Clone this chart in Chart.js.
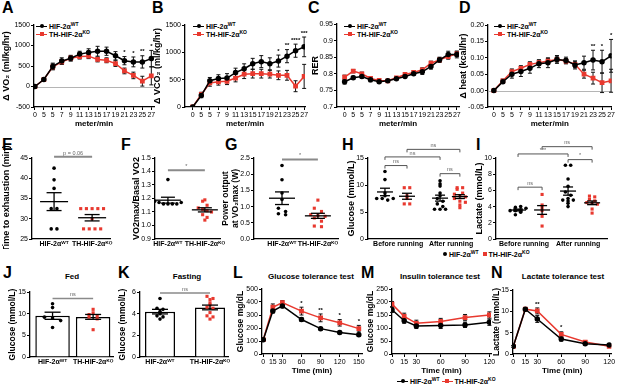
<!DOCTYPE html>
<html>
<head>
<meta charset="utf-8">
<script src="https://cdn.jsdelivr.net/npm/chart.js@4.4.1/dist/chart.umd.min.js"></script>
<style>
  body { margin:0; width:617px; height:388px; position:relative; overflow:hidden; background:#fff;
         font-family:'Liberation Sans', Arial, sans-serif; color:#000; }
  canvas { position:absolute; }
  .let { position:absolute; font-weight:bold; font-size:16px; line-height:16px; }
  .ttl { position:absolute; font-weight:bold; font-size:8px; line-height:9px; white-space:nowrap; transform:translateX(-50%); }
  .lg { position:absolute; font-weight:bold; font-size:7px; line-height:8px; white-space:nowrap; }
  .lg sup { font-size:5px; vertical-align:3px; line-height:0; }
  .ln { display:inline-block; position:relative; width:11px; height:1.5px; background:#000; vertical-align:2px; margin-right:2px; }
  .ln::after { content:''; position:absolute; left:3.5px; top:-1.5px; width:4px; height:4px; border-radius:50%; background:#000; }
  .ln.r, .ln.r::after { background:#e8392f; }
  .ln.r::after { border-radius:0; }
  .dt { display:inline-block; width:4px; height:4px; border-radius:50%; background:#000; vertical-align:1px; margin-right:2px; }
  .sq { display:inline-block; width:4px; height:4px; background:#e8392f; vertical-align:1px; margin:0 2px 0 4px; }
</style>
</head>
<body>
<div class="let" style="left:2px;top:0px">A</div>
<div class="let" style="left:152px;top:0px">B</div>
<div class="let" style="left:308px;top:0px">C</div>
<div class="let" style="left:459px;top:0px">D</div>
<div class="let" style="left:2px;top:137px">E</div>
<div class="let" style="left:121px;top:137px">F</div>
<div class="let" style="left:225px;top:137px">G</div>
<div class="let" style="left:342px;top:137px">H</div>
<div class="let" style="left:476px;top:137px">I</div>
<div class="let" style="left:3px;top:265px">J</div>
<div class="let" style="left:118px;top:265px">K</div>
<div class="let" style="left:233px;top:265px">L</div>
<div class="let" style="left:361px;top:265px">M</div>
<div class="let" style="left:491px;top:265px">N</div>

<div class="ttl" style="left:72px;top:272px">Fed</div>
<div class="ttl" style="left:187px;top:272px">Fasting</div>
<div class="ttl" style="left:311px;top:272px">Glucose tolerance test</div>
<div class="ttl" style="left:440px;top:272px">Insulin tolerance test</div>
<div class="ttl" style="left:563px;top:272px">Lactate tolerance test</div>

<div class="lg" style="left:36px;top:23px"><span class="ln"></span>HIF-2α<sup>WT</sup><br><span class="ln r"></span>TH-HIF-2α<sup>KO</sup></div>
<div class="lg" style="left:193px;top:23px"><span class="ln"></span>HIF-2α<sup>WT</sup><br><span class="ln r"></span>TH-HIF-2α<sup>KO</sup></div>
<div class="lg" style="left:344px;top:23px"><span class="ln"></span>HIF-2α<sup>WT</sup><br><span class="ln r"></span>TH-HIF-2α<sup>KO</sup></div>
<div class="lg" style="left:494px;top:23px"><span class="ln"></span>HIF-2α<sup>WT</sup><br><span class="ln r"></span>TH-HIF-2α<sup>KO</sup></div>
<div class="lg" style="left:443px;top:251px"><span class="dt"></span>HIF-2α<sup>WT</sup><span class="sq"></span>TH-HIF-2α<sup>KO</sup></div>
<div class="lg" style="left:397px;top:378px"><span class="ln"></span>HIF-2α<sup>WT</sup> <span class="ln r"></span>TH-HIF-2α<sup>KO</sup></div>

<script>
// ---- A-D: treadmill run, values per speed step ----
const speeds = ['0','5','5','7','9','11','13','15','17','19','21','23','25','27'];
const steps = [0,1,2,3,4,5,6,7,8,9,10,11,12,13];

const vo2WT    = [0,170,490,620,690,790,830,860,860,750,630,600,600,680];
const vo2WTsem = [0,30,80,80,70,70,90,120,100,100,100,120,150,200];
const vo2KO    = [0,170,480,600,690,730,740,660,640,560,380,270,130,260];
const vo2KOsem = [0,30,70,60,60,60,60,60,60,70,70,80,120,220];
const vo2Sig   = ['','','','','','','','','','','*','*','**','*'];

const vco2WT    = [0,210,480,520,530,630,700,790,830,790,840,930,1030,1100];
const vco2WTsem = [0,40,60,70,80,80,90,100,110,110,110,120,120,180];
const vco2KO    = [0,230,440,460,470,530,600,610,610,600,580,580,380,560];
const vco2KOsem = [0,40,60,60,60,70,80,80,80,70,80,90,100,220];
const vco2Sig   = ['','','','','','','','','','','*','**','****','***'];

const rerWT    = [0.776,0.788,0.792,0.782,0.776,0.779,0.785,0.792,0.800,0.806,0.822,0.842,0.858,0.858];
const rerWTsem = [0.007,0.005,0.005,0.006,0.004,0.003,0.003,0.003,0.004,0.008,0.008,0.008,0.010,0.010];
const rerKO    = [0.790,0.808,0.800,0.786,0.780,0.779,0.788,0.798,0.804,0.812,0.832,0.842,0.852,0.860];
const rerKOsem = [0.006,0.005,0.005,0.005,0.004,0.003,0.003,0.004,0.004,0.006,0.006,0.006,0.008,0.008];

const heatWT    = [0,0.027,0.050,0.058,0.068,0.082,0.085,0.095,0.092,0.078,0.085,0.093,0.088,0.106];
const heatWTsem = [0,0.005,0.012,0.015,0.015,0.012,0.015,0.012,0.010,0.012,0.020,0.030,0.035,0.050];
const heatKO    = [0,0.030,0.058,0.068,0.080,0.085,0.090,0.095,0.090,0.080,0.050,0.038,0.024,0.030];
const heatKOsem = [0,0.005,0.008,0.008,0.008,0.008,0.008,0.008,0.008,0.010,0.012,0.018,0.030,0.035];
const heatSig   = ['','','','','','','','','','','','**','*','*'];

// ---- E-I: individual mice ----
const groupLabels = ['HIF-2αᵂᵀ', 'TH-HIF-2αᴷᴼ'];
const runLabels = ['Before running', 'After running'];
const exhWT = [42.5,39.6,37.5,32.5,32.5,27.5,27.5];
const exhKO = [32.5,32.5,32.5,32.5,32.5,30,27.5,27.5,27.5,27.5];
const ratioWT = [1.34,1.18,1.17,1.16,1.16,1.16,1.16,1.17];
const ratioKO = [1.19,1.18,1.15,1.13,1.12,1.11,1.10,1.08,1.06,1.04];
const powerWT = [2.27,1.83,1.42,1.22,0.95,0.85,0.78,0.75];
const powerKO = [1.20,0.95,0.85,0.75,0.72,0.70,0.65,0.55,0.40,0.38];
const gluBeforeWT = [12.5,11,8.5,7.5,7.5,7.2,7.5,8];
const gluBeforeKO = [9.5,9.5,8,7.5,6.5,6.5];
const gluAfterWT  = [10.8,10.2,9.8,8.5,8,7.5,7,6.5,6,5.5,5.5,5.5];
const gluAfterKO  = [9.5,9.5,9.2,8.5,8.3,8,7.8,7.5,7,6.8,6.3,5.8];
const lacBeforeWT = [3.0,3.3,3.5,3.5,3.6,3.8,3.9,4.0];
const lacBeforeKO = [5.5,4.2,3.9,3.5,2.8,1.6];
const lacAfterWT  = [9.1,9.1,7.4,6.5,5.8,5.4,5.0,4.8,4.7,4.4,4.8,4.0];
const lacAfterKO  = [5.3,5.2,4.9,4.7,4.5,4.4,4.3,3.7,3.2];

// ---- J-N ----
const fedWT  = [12.3,11.4,9.2,9.0,8.4,6.8];
const fedKO  = [11,10.2,9.8,9.5,9.2,8.8,6.3];
const fastWT = [5.4,4.5,4.4,4.2,4.0,3.8,3.7,3.5];
const fastKO = [5.6,5.4,5.3,5.0,4.8,4.6,4.5,4.1,3.8,3.7,3.5];

const gttTime  = [0,15,30,60,90,120,150];
const gttWT    = [110,330,370,265,195,165,148];
const gttWTsem = [5,15,15,15,10,10,12];
const gttKO    = [110,360,395,330,278,240,195];
const gttKOsem = [5,25,15,30,30,25,25];
const gttSig   = ['','','','*','**','*','*'];

const ittTime  = [0,15,30,60,90,120];
const ittWT    = [170,128,108,110,112,122];
const ittWTsem = [10,10,10,12,10,12];
const ittKO    = [192,145,118,125,140,150];
const ittKOsem = [10,12,12,12,12,12];

const lttTime  = [0,15,30,60,90,120];
const lttWT    = [1.8,10.5,8.2,3.5,2.4,2.1];
const lttWTsem = [0.2,0.4,0.8,0.5,0.3,0.3];
const lttKO    = [1.8,10.5,10.1,4.6,2.8,1.8];
const lttKOsem = [0.2,0.4,0.7,0.6,0.3,0.2];
const lttSig   = ['','','**','*','',''];

const RED = '#e8392f';
const F = "'Liberation Sans', Arial, sans-serif";
Chart.defaults.font.family = F;
Chart.defaults.color = '#000';

function seg(ctx, x1, y1, x2, y2) { ctx.beginPath(); ctx.moveTo(x1, y1); ctx.lineTo(x2, y2); ctx.stroke(); }
const mean = a => a.reduce((s, v) => s + v, 0) / a.length;
const sem = a => { const m = mean(a); return Math.sqrt(a.reduce((s, v) => s + (v - m) ** 2, 0) / (a.length - 1) / a.length); };

// error bars, mean/SEM, stars and brackets
const extras = {
  id: 'extras',
  beforeDatasetsDraw(chart, args, o) {
    const ctx = chart.ctx, x = chart.scales.x, y = chart.scales.y, ca = chart.chartArea;
    ctx.save();
    if (o.zero) {
      ctx.strokeStyle = '#b5b5b5'; ctx.lineWidth = 1;
      const p = Math.round(y.getPixelForValue(0)) + 0.5;
      seg(ctx, ca.left, p, ca.right, p);
    }
    chart.data.datasets.forEach(ds => {
      if (!ds.err) return;
      ctx.strokeStyle = '#111'; ctx.lineWidth = 1;
      ds.data.forEach((p, i) => {
        const e = ds.err[i]; if (!e) return;
        const px = x.getPixelForValue(p.x), t = y.getPixelForValue(p.y + e), b = y.getPixelForValue(p.y - e);
        seg(ctx, px, t, px, b); seg(ctx, px - 2, t, px + 2, t); seg(ctx, px - 2, b, px + 2, b);
      });
    });
    ctx.restore();
  },
  afterDatasetsDraw(chart, args, o) {
    const ctx = chart.ctx, x = chart.scales.x, y = chart.scales.y;
    ctx.save();
    chart.data.datasets.forEach(ds => {
      const s = ds.summary; if (!s) return;
      const m = mean(ds.vals), e = sem(ds.vals);
      const px = x.getPixelForValue(s.pos), pm = y.getPixelForValue(m);
      const t = y.getPixelForValue(m + e), b = y.getPixelForValue(m - e);
      ctx.strokeStyle = '#000'; ctx.lineWidth = 1.3;
      if (s.w) seg(ctx, px - s.w / 2, pm, px + s.w / 2, pm);
      seg(ctx, px, t, px, b);
      seg(ctx, px - s.cap / 2, t, px + s.cap / 2, t);
      seg(ctx, px - s.cap / 2, b, px + s.cap / 2, b);
    });
    if (o.sig) {
      ctx.font = 'bold 6px ' + F; ctx.fillStyle = '#000'; ctx.textAlign = 'center'; ctx.textBaseline = 'bottom';
      o.sig.forEach((lab, i) => {
        if (!lab) return;
        let top = Infinity, px = 0;
        chart.data.datasets.forEach(ds => {
          const p = ds.data[i]; px = x.getPixelForValue(p.x);
          top = Math.min(top, y.getPixelForValue(p.y + (ds.err ? ds.err[i] : 0)));
        });
        ctx.fillText(lab, px, top - 1);
      });
    }
    if (o.brackets) {
      const st = o.bstyle || {};
      ctx.strokeStyle = st.color || '#8a8a8a'; ctx.lineWidth = st.width || 2;
      ctx.font = '5.5px ' + F; ctx.fillStyle = '#666'; ctx.textAlign = 'center'; ctx.textBaseline = 'bottom';
      o.brackets.forEach(([a, b, v, lab]) => {
        const x1 = x.getPixelForValue(a), x2 = x.getPixelForValue(b), py = y.getPixelForValue(v);
        seg(ctx, x1, py, x2, py);
        if (st.drop) { seg(ctx, x1, py, x1, py + st.drop); seg(ctx, x2, py, x2, py + st.drop); }
        ctx.fillText(lab, (x1 + x2) / 2, py - 1);
      });
    }
    ctx.restore();
  }
};
Chart.register(extras);

function yAx(min, max, step, title, w, dec, tsz) {
  return {
    type: 'linear', min, max,
    afterFit: s => { s.width = w; },
    border: { color: '#000', width: 1.3 },
    grid: { drawOnChartArea: false, drawTicks: true, tickLength: 3, color: '#000', lineWidth: 1 },
    ticks: { stepSize: step, padding: 1, font: { size: 7 }, color: '#000',
             callback: v => dec == null ? String(+v.toFixed(6)) : v.toFixed(dec) },
    title: { display: true, text: title, font: { size: tsz || 9, weight: 'bold', lineHeight: 1.15 }, color: '#000', padding: 0 }
  };
}
function xAx(min, max, vals, labels, h, title, marks) {
  return {
    type: 'linear', min, max, offset: false,
    afterFit: s => { s.height = h; },
    afterBuildTicks: s => { s.ticks = vals.map(v => ({ value: v })); },
    border: { color: '#000', width: 1.3 },
    grid: { offset: false, drawOnChartArea: false, drawTicks: !!marks, tickLength: 3, color: '#000' },
    ticks: { autoSkip: false, maxRotation: 0, padding: 1, font: { size: 7, weight: marks ? 'normal' : 'bold' },
             color: '#000', callback: (v, i) => labels[i] },
    title: { display: !!title, text: title || '', font: { size: 8, weight: 'bold' }, color: '#000', padding: 0 }
  };
}

function panel(b, cfg) {
  const left = b.x0 - b.yw, top = b.y0 - b.pt;
  const w = b.x1 - left + b.pr, h = b.y1 + b.xh - top;
  const c = document.createElement('canvas');
  c.width = w; c.height = h;
  c.style.left = left + 'px'; c.style.top = top + 'px';
  c.style.width = w + 'px'; c.style.height = h + 'px';
  document.body.appendChild(c);
  cfg.options.responsive = false;
  cfg.options.animation = false;
  cfg.options.layout = { padding: { left: 0, top: b.pt, right: b.pr, bottom: 0 } };
  cfg.options.plugins = Object.assign({ legend: { display: false }, tooltip: { enabled: false } }, cfg.options.plugins);
  return new Chart(c, cfg);
}

function lineSets(xs, wt, wtE, ko, koE) {
  return [
    { data: ko.map((v, i) => ({ x: xs[i], y: v })), err: koE, borderColor: RED, backgroundColor: RED,
      pointBackgroundColor: RED, pointBorderColor: RED, pointStyle: 'rect', pointRadius: 2.3, borderWidth: 1.5, order: 2 },
    { data: wt.map((v, i) => ({ x: xs[i], y: v })), err: wtE, borderColor: '#000', backgroundColor: '#000',
      pointBackgroundColor: '#000', pointBorderColor: '#000', pointStyle: 'circle', pointRadius: 2, borderWidth: 1.5, order: 1 }
  ];
}
function lineChart(b, xs, wt, wtE, ko, koE, x, y, ext) {
  return panel(b, { type: 'line', data: { datasets: lineSets(xs, wt, wtE, ko, koE) },
    options: { scales: { x, y }, plugins: { extras: ext } } });
}

// points of almost the same value are spread side by side
function swarm(vals, pos, bin, step) {
  const rows = {}, pts = [];
  vals.forEach(v => { const k = Math.round(v / bin); (rows[k] = rows[k] || []).push(v); });
  Object.values(rows).forEach(r => r.forEach((v, j) => pts.push({ x: pos + (j - (r.length - 1) / 2) * step, y: v })));
  return pts;
}
function dots(vals, pos, red, bin, step, w, cap) {
  const col = red ? RED : '#000';
  return { type: 'scatter', data: swarm(vals, pos, bin, step), vals, summary: { pos, w, cap },
    pointStyle: red ? 'rect' : 'circle', pointRadius: red ? 2.2 : 1.8, backgroundColor: col, borderColor: col,
    pointBackgroundColor: col, pointBorderColor: col, borderWidth: 0, showLine: false, order: 1 };
}
function dotChart(b, sets, x, y, ext) {
  return panel(b, { type: 'scatter', data: { datasets: sets }, options: { scales: { x, y }, plugins: { extras: ext } } });
}
function barChart(b, wt, ko, x, y, ext, bin, step) {
  const bars = { type: 'bar', data: [{ x: 1, y: mean(wt) }, { x: 2, y: mean(ko) }], backgroundColor: '#fff',
    borderColor: '#000', borderWidth: 1.5, barPercentage: b.bp, categoryPercentage: 1, order: 3 };
  const a = dots(wt, 1, false, bin, step, 0, 16), k = dots(ko, 2, true, bin, step, 0, 16);
  return panel(b, { type: 'scatter', data: { datasets: [bars, a, k] }, options: { scales: { x, y }, plugins: { extras: ext } } });
}

// ---- row 1 ----
lineChart({ x0: 34, y0: 25, x1: 154, y1: 107, yw: 33, xh: 22, pt: 8, pr: 6 }, steps, vo2WT, vo2WTsem, vo2KO, vo2KOsem,
  xAx(-0.1, 13.3, steps, speeds, 22, 'meter/min', true), yAx(-500, 1500, 500, 'Δ VO₂ (ml/kg/hr)', 33), { zero: true, sig: vo2Sig });
lineChart({ x0: 185, y0: 25, x1: 305, y1: 107, yw: 33, xh: 22, pt: 8, pr: 6 }, steps, vco2WT, vco2WTsem, vco2KO, vco2KOsem,
  xAx(-0.9, 13.1, steps, speeds, 22, 'meter/min', true), yAx(0, 1500, 500, 'Δ VCO₂ (ml/kg/hr)', 33), { sig: vco2Sig });
lineChart({ x0: 337, y0: 24, x1: 459, y1: 107, yw: 27, xh: 22, pt: 8, pr: 6 }, steps, rerWT, rerWTsem, rerKO, rerKOsem,
  xAx(-0.88, 13.25, steps, speeds, 22, 'meter/min', true), yAx(0.7, 0.95, 0.05, 'RER', 27), {});
lineChart({ x0: 488, y0: 25, x1: 614, y1: 107, yw: 30, xh: 22, pt: 8, pr: 3 }, steps, heatWT, heatWTsem, heatKO, heatKOsem,
  xAx(-0.65, 13.05, steps, speeds, 22, 'meter/min', true), yAx(-0.05, 0.2, 0.05, 'Δ heat (kcal/hr)', 30, 2), { zero: true, sig: heatSig });

// ---- row 2 ----
dotChart({ x0: 32, y0: 158, x1: 110, y1: 239, yw: 31, xh: 10, pt: 12, pr: 8 },
  [dots(exhWT, 1, false, 1, 0.15, 28, 15), dots(exhKO, 2, true, 1, 0.15, 28, 15)],
  xAx(0.42, 2.47, [1, 2], groupLabels, 10), yAx(25, 45, 5, 'Time to exhaustion (min)', 31),
  { brackets: [[1, 2, 45.3, 'p = 0.06']] });
dotChart({ x0: 155, y0: 158, x1: 220, y1: 239, yw: 24, xh: 10, pt: 12, pr: 8 },
  [dots(ratioWT, 1, false, 0.04, 0.12, 26, 14), dots(ratioKO, 2, true, 0.04, 0.12, 26, 14)],
  xAx(0.65, 2.41, [1, 2], groupLabels, 10), yAx(0.9, 1.5, 0.1, 'VO2max/Basal VO2', 24, 1),
  { brackets: [[1, 2, 1.41, '*']] });
dotChart({ x0: 254, y0: 158, x1: 338, y1: 239, yw: 33, xh: 10, pt: 12, pr: 8 },
  [dots(powerWT, 1, false, 0.15, 0.2, 26, 14), dots(powerKO, 2, true, 0.15, 0.2, 26, 14)],
  xAx(0.22, 2.56, [1, 2], groupLabels, 10), yAx(0, 2.5, 0.5, ['Power output', 'at VO₂max (W)'], 33, 1, 8.5),
  { brackets: [[1, 2, 2.45, '*']] });
dotChart({ x0: 368, y0: 158, x1: 472, y1: 239, yw: 22, xh: 10, pt: 16, pr: 8 },
  [dots(gluBeforeWT, 1, false, 0.8, 0.25, 16, 10), dots(gluBeforeKO, 2, true, 0.8, 0.25, 16, 10),
   dots(gluAfterWT, 3.5, false, 0.8, 0.25, 16, 10), dots(gluAfterKO, 4.4, true, 0.8, 0.25, 16, 10)],
  xAx(0.23, 4.95, [1.6, 4.0], runLabels, 10), yAx(0, 15, 5, 'Glucose (mmol/L)', 22),
  { brackets: [[1, 2, 13.6, 'ns'], [1, 3.5, 15.2, 'ns'], [2, 4.4, 16.6, 'ns'], [3.5, 4.4, 12.1, 'ns']],
    bstyle: { color: '#555', width: 1, drop: 3 } });
dotChart({ x0: 496, y0: 158, x1: 607, y1: 239, yw: 22, xh: 10, pt: 18, pr: 10 },
  [dots(lacBeforeWT, 1, false, 0.4, 0.22, 16, 10), dots(lacBeforeKO, 2, true, 0.4, 0.22, 16, 10),
   dots(lacAfterWT, 3.08, false, 0.4, 0.22, 16, 10), dots(lacAfterKO, 4.08, true, 0.4, 0.22, 16, 10)],
  xAx(0.083, 4.7, [1.25, 3.5], runLabels, 10), yAx(0, 10, 2, 'Lactate (mmol/L)', 22),
  { brackets: [[1, 2, 6.4, 'ns'], [1, 3.08, 10.5, '***'], [2, 4.08, 11.4, 'ns'], [3.08, 4.08, 9.8, '*']],
    bstyle: { color: '#555', width: 1, drop: 3 } });

// ---- row 3 ----
barChart({ x0: 30, y0: 292, x1: 113, y1: 357, yw: 22, xh: 12, pt: 8, pr: 8, bp: 0.85 }, fedWT, fedKO,
  xAx(0.444, 2.49, [1, 2], groupLabels, 12), yAx(0, 15, 5, 'Glucose (mmol/L)', 22, null, 8.5),
  { brackets: [[1, 2, 13.5, 'ns']], bstyle: { color: '#8a8a8a', width: 1.5 } }, 0.8, 0.2);
barChart({ x0: 140, y0: 292, x1: 228, y1: 357, yw: 22, xh: 12, pt: 8, pr: 8, bp: 0.6 }, fastWT, fastKO,
  xAx(0.6, 2.36, [1, 2], groupLabels, 12), yAx(0, 6, 2, 'Glucose (mmol/L)', 22, null, 8.5),
  { brackets: [[1, 2, 5.9, 'ns']], bstyle: { color: '#8a8a8a', width: 1.5 } }, 0.25, 0.12);
lineChart({ x0: 262, y0: 289, x1: 362, y1: 354, yw: 26, xh: 22, pt: 8, pr: 6 }, gttTime, gttWT, gttWTsem, gttKO, gttKOsem,
  xAx(-2, 155, gttTime, gttTime.map(String), 22, 'Time (min)', true), yAx(0, 500, 100, 'Glucose mg/dL', 26, null, 8.5), { sig: gttSig });
lineChart({ x0: 392, y0: 289, x1: 491, y1: 354, yw: 26, xh: 22, pt: 8, pr: 6 }, ittTime, ittWT, ittWTsem, ittKO, ittKOsem,
  xAx(0, 122, ittTime, ittTime.map(String), 22, 'Time (min)', true), yAx(0, 250, 50, 'Glucose mg/dL', 26, null, 8.5), {});
lineChart({ x0: 513, y0: 290, x1: 612, y1: 354, yw: 21, xh: 22, pt: 8, pr: 5 }, lttTime, lttWT, lttWTsem, lttKO, lttKOsem,
  xAx(-0.4, 122.9, lttTime, lttTime.map(String), 22, 'Time (min)', true), yAx(0, 15, 5, 'Lactate (mmol/L)', 21, null, 8.5), { sig: lttSig });
</script>
</body>
</html>
